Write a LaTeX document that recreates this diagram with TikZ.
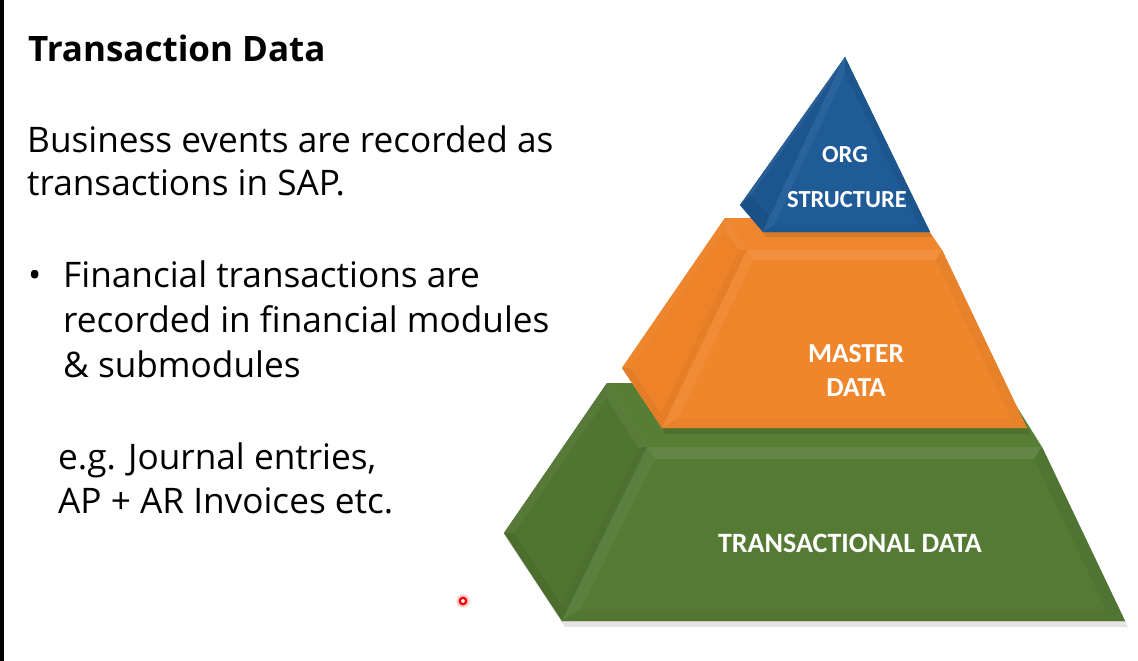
\documentclass[tikz,border=0pt]{standalone}
\usepackage{fontspec}
\setmainfont{Open Sans}
\newfontfamily\labelfont{Carlito}
\definecolor{gfront}{RGB}{84,122,52}
\definecolor{gside}{RGB}{80,117,48}
\definecolor{gtop}{RGB}{86,126,53}
\definecolor{ofront}{RGB}{240,134,44}
\definecolor{oside}{RGB}{237,130,40}
\definecolor{otop}{RGB}{240,135,46}
\definecolor{bfront}{RGB}{31,91,150}
\definecolor{bside}{RGB}{29,86,143}
\begin{document}
\begin{tikzpicture}[x=1pt,y=-1pt,
  bodytext/.style={anchor=base west, inner sep=0pt, font=\fontsize{35.2}{42}\selectfont},
  titletext/.style={anchor=base west, inner sep=0pt, font=\bfseries\fontsize{35}{42}\selectfont},
  layerlabel/.style={anchor=base, inner sep=0pt, text=white, font=\labelfont\bfseries\fontsize{#1}{#1}\selectfont},
  softshadow/.style={fill=black, opacity=0.10}]
\useasboundingbox (0,0) rectangle (1138,661);
\fill[white] (0,0) rectangle (1138,661);
\fill[black] (0,0) rectangle (4,661);

% ---------- text column ----------
\node[titletext] (title) at (28,62) {Transaction Data};
\node[bodytext] (intro1) at (27,152) {Business events are recorded as};
\node[bodytext] (intro2) at (27,195) {transactions in SAP.};
\node[bodytext] (bul) at (28,287) {\textbullet};
\node[bodytext] (fin1) at (63,287) {Financial transactions are};
\node[bodytext] (fin2) at (63,332) {recorded in financial modules};
\node[bodytext] (fin3) at (63,377) {\& submodules};
\node[bodytext] (eg1) at (58,469) {e.g. Journal entries,};
\node[bodytext] (eg2) at (58,513) {AP + AR Invoices etc.};

% pointer mark
\fill[red, opacity=0.22] (463,601) circle (6.5);
\draw[red, line width=2.2, fill=white] (463,601) circle (3.2);

% ---------- bottom layer (green) ----------
\fill[softshadow] (562,621) -- (1125,621) -- (1128,627) -- (565,627) -- cycle;
\fill[softshadow] (504,533) -- (562,621) -- (565,627) -- (506,538) -- cycle;
% side face
\fill[gside] (607,383) -- (647,447) -- (562,621) -- (504,533) -- cycle;
\fill[gside!95!white] (607,383) -- (647,447) -- (638,448) -- (607,398) -- cycle;
\fill[gside!96!white] (504,533) -- (607,383) -- (607,398) -- (514,533) -- cycle;
\fill[gside!96!black] (647,447) -- (562,621) -- (561,605) -- (638,448) -- cycle;
\fill[gside!94!black] (562,621) -- (504,533) -- (514,533) -- (561,605) -- cycle;
% top face
\fill[gtop] (607,383) -- (1002,383) -- (1042,447) -- (647,447) -- cycle;
% front face
\fill[gfront] (647,447) -- (1042,447) -- (1125,621) -- (562,621) -- cycle;
\fill[gfront!91!white] (647,447) -- (1042,447) -- (1034,459) -- (655,459) -- cycle;
\fill[gfront!96!white] (647,447) -- (655,459) -- (581,609) -- (562,621) -- cycle;
\fill[gfront!95!black] (1042,447) -- (1125,621) -- (1106,609) -- (1034,459) -- cycle;
\fill[gfront!97!black] (562,621) -- (581,609) -- (1106,609) -- (1125,621) -- cycle;

% ---------- middle layer (orange) ----------
\fill[softshadow] (662,428) -- (1027,428) -- (1030,434) -- (665,434) -- cycle;
% side face
\fill[oside] (725,218) -- (747,250) -- (662,428) -- (622,368) -- cycle;
\fill[oside!94!white] (725,218) -- (747,250) -- (739,250) -- (725,231) -- cycle;
\fill[oside!97!white] (622,368) -- (725,218) -- (725,231) -- (630,368) -- cycle;
\fill[oside!97!black] (747,250) -- (662,428) -- (661,414) -- (739,250) -- cycle;
\fill[oside!96!black] (662,428) -- (622,368) -- (630,368) -- (661,414) -- cycle;
% top face
\fill[otop] (725,218) -- (920,218) -- (942,250) -- (747,250) -- cycle;
% front face
\fill[ofront] (747,250) -- (942,250) -- (1027,428) -- (662,428) -- cycle;
\fill[ofront!92!white] (747,250) -- (942,250) -- (936,260) -- (753,260) -- cycle;
\fill[ofront!96!white] (747,250) -- (753,260) -- (678,418) -- (662,428) -- cycle;
\fill[ofront!96!black] (942,250) -- (1027,428) -- (1011,418) -- (936,260) -- cycle;
\fill[ofront!97!black] (662,428) -- (678,418) -- (1011,418) -- (1027,428) -- cycle;

% ---------- top layer (blue) ----------
\fill[softshadow] (763,232) -- (930,232) -- (933,237) -- (766,237) -- cycle;
% side face
\fill[bside] (845,57) -- (740,205) -- (763,232) -- cycle;
\fill[bside!94!white] (845,57) -- (740,205) -- (751,195) -- (829,84) -- cycle;
\fill[bside!94!black] (740,205) -- (763,232) -- (768,215) -- (751,195) -- cycle;
% front face
\fill[bfront] (845,57) -- (930,232) -- (763,232) -- cycle;
\fill[bfront!95!white] (845,57) -- (845,73) -- (774,225) -- (763,232) -- cycle;
\fill[bfront!94!black] (845,57) -- (930,232) -- (919,225) -- (845,73) -- cycle;
\fill[bfront!96!black] (763,232) -- (774,225) -- (919,225) -- (930,232) -- cycle;

% ---------- layer labels ----------
\node[layerlabel=24.5] (orgA) at (845,162) {ORG};
\node[layerlabel=24.5] (orgB) at (847,207) {STRUCTURE};
\node[layerlabel=27.5] (mastA) at (856,362) {MASTER};
\node[layerlabel=27.5] (mastB) at (856,396) {DATA};
\node[layerlabel=28] (trans) at (850,552) {TRANSACTIONAL DATA};
\end{tikzpicture}
\end{document}
